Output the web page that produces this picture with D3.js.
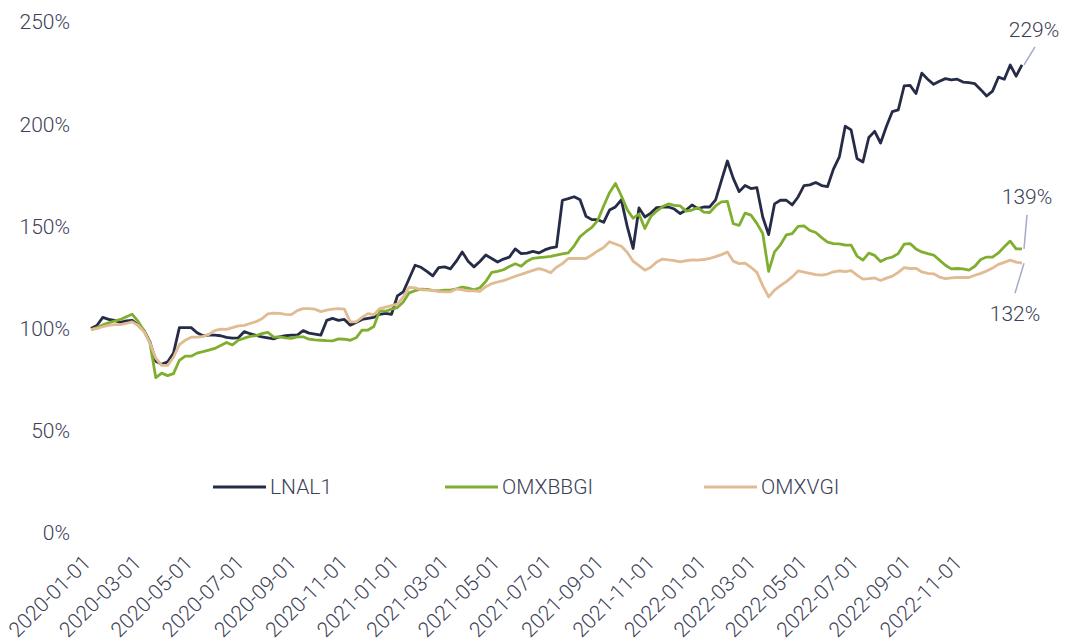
<!DOCTYPE html>
<meta charset="utf-8">
<style>
  body { margin: 0; background: #fff; }
  text { font-family: Roboto, "Liberation Sans", sans-serif; font-weight: 300; fill: #3c4157; }
</style>
<body>
<script src="https://d3js.org/d3.v7.min.js"></script>
<script>

var width = 1070, height = 643;
var fontSize = 21;

var seriesNames = ["LNAL1", "OMXBBGI", "OMXVGI"];
var seriesColors = ["#262c47", "#80ae2f", "#e0bb93"];
var startDate = "2020-01-01";   // weekly observations from here
var tickLabels = ["2020-01-01","2020-03-01","2020-05-01","2020-07-01","2020-09-01","2020-11-01",
  "2021-01-01","2021-03-01","2021-05-01","2021-07-01","2021-09-01","2021-11-01",
  "2022-01-01","2022-03-01","2022-05-01","2022-07-01","2022-09-01","2022-11-01"];
var yTicks = [0, 50, 100, 150, 200, 250];

var lnal1 = [
  100, 101.5, 105.5, 104.5, 104, 103, 103.8, 104, 101.7, 99,
  93.5, 84, 82.5, 83.7, 88, 100.5, 100.5, 100.5, 98, 96.5,
  96.8, 96.8, 96.5, 95.7, 95.3, 95.5, 98.5, 97.5, 96.7, 96,
  95.5, 95, 96, 96.5, 96.8, 96.8, 99, 97.8, 97.3, 96.8,
  104, 105, 104, 104.5, 101.7, 103, 104.5, 105, 105.5, 107,
  107.5, 107, 116, 118, 124.5, 131, 130, 128, 125.8, 129.8,
  130.2, 129.2, 133, 137.5, 133, 130.2, 132.8, 136, 134.3, 132.6,
  134, 135, 139, 136.7, 136.9, 137.8, 137, 138.5, 139.5, 140,
  162.8, 163.6, 164.5, 163, 155, 153.3, 153.3, 152, 158, 159.5,
  163, 150, 139.2, 159, 154.6, 156.5, 159.2, 159.4, 159.5, 158.5,
  156.3, 158, 160.5, 158.7, 159.5, 159.5, 163, 172.5, 182, 173.5,
  167, 170, 168.5, 169, 154.6, 146, 161, 162.8, 162.8, 160.5,
  164.4, 170, 170.3, 171.5, 170, 169.5, 178, 184, 199, 197.2,
  183.2, 181.5, 193.5, 196.5, 190.8, 199, 206.2, 207, 218.7, 219,
  215, 225, 222, 219.5, 221, 222.3, 221.7, 222, 220.6, 220.3,
  219.8, 216.9, 213.8, 216.2, 223, 222, 229, 223.5, 229
];

var omxbbgi = [
  99.5, 100.5, 101.8, 102.8, 103.7, 104.5, 105.8, 107, 103.5, 99,
  93, 76, 78.2, 77, 78, 84.5, 86.5, 86.5, 88, 88.7,
  89.5, 90.3, 91.7, 93.2, 92, 94.3, 95.3, 96.2, 96.6, 97.5,
  98.2, 95.8, 96, 95.5, 95.2, 96, 96, 94.8, 94.5, 94.3,
  94.1, 94, 95, 94.8, 94.3, 95.5, 99.2, 99.3, 101, 108.8,
  108.5, 109.5, 110.3, 113, 117.5, 118.6, 119.3, 119.2, 118.7, 118.5,
  118.8, 118.8, 119.5, 120.3, 119.8, 119, 120, 123, 127.5, 128,
  128.8, 130.4, 131.7, 130.5, 133, 134.4, 134.7, 135, 135.3, 136,
  136.5, 137, 140.5, 145, 147.4, 149.5, 153, 160, 166.5, 171,
  165, 158.2, 154, 156, 149, 154.8, 157.5, 159.7, 161, 160.3,
  160, 157.5, 158, 159.2, 157, 156.8, 160, 162, 162.2, 151.3,
  150.5, 156.5, 155.5, 151.5, 146.5, 128, 137.5, 141, 145.8, 146.5,
  150, 150.3, 148, 147, 144.5, 142.3, 141.6, 141.4, 140.8, 140.8,
  135.5, 133.5, 136.9, 135.8, 132.8, 134.3, 135, 136.7, 141.3, 141.6,
  139, 137.5, 136.7, 136, 133.5, 131, 129.2, 129.4, 129.2, 128.6,
  130.5, 133.8, 135, 135, 137, 140, 142.8, 139, 139
];

var omxvgi = [
  99.5, 100, 100.9, 101.6, 101.9, 101.9, 102.6, 103.3, 101.5, 98.5,
  93, 85.5, 82, 82, 86, 92.2, 94.3, 95.8, 95.8, 96.2,
  97.2, 99, 99.7, 99.6, 100.5, 101.3, 101.6, 102.5, 103.4, 104.8,
  107.2, 107.6, 107.4, 107, 106.8, 108.8, 109.8, 109.8, 109.5, 108.3,
  109, 109.5, 109.8, 109.5, 103.3, 103.3, 105.5, 107.3, 106.8, 109.8,
  110.5, 111.2, 112, 115.5, 120.2, 119.9, 119, 118.8, 118.7, 118.1,
  118, 118, 119.4, 119, 118.5, 118.5, 118.2, 120.5, 122, 122.8,
  123.5, 124.5, 125.6, 126.5, 127.5, 128.5, 129.3, 128.6, 127.3, 130,
  131.8, 134.3, 134.3, 134.3, 134.3, 136, 138, 139.7, 142.5, 141.4,
  140.3, 137.4, 133, 130.8, 128.6, 130, 132.6, 134, 133.6, 133.3,
  132.6, 133.2, 133.6, 133.5, 133.8, 134.3, 135.2, 136.2, 137.5, 133,
  131.8, 132, 130, 127.5, 121, 115.5, 118.8, 121, 123, 125.3,
  128.2, 127.6, 127, 126.4, 126.2, 126.7, 127.8, 128.3, 127.9, 128.4,
  126.2, 124.2, 124.4, 124.8, 123.5, 124.7, 125.7, 127.5, 129.8, 129.4,
  129.5, 127.7, 127, 126.8, 125.2, 124.5, 124.8, 125, 125, 125,
  126.1, 127, 128.2, 129.6, 131.4, 132.4, 133.5, 132.5, 132
];

var endLabels = ["229%", "139%", "132%"];

var parseDate = d3.timeParse("%Y-%m-%d");
var start = parseDate(startDate);
var dates = lnal1.map(function(d, i) { return d3.timeDay.offset(start, 7 * i); });
var allSeries = [lnal1, omxbbgi, omxvgi];

var x = d3.scaleTime().domain(d3.extent(dates)).range([91, 1022]);
var y = d3.scaleLinear().domain([0, 250]).range([533, 22]);

var svg = d3.select("body").append("svg")
  .attr("width", width)
  .attr("height", height);

svg.append("rect").attr("width", width).attr("height", height).attr("fill", "#fff");

// y labels
svg.selectAll("text.ylab")
  .data(yTicks)
  .enter()
  .append("text")
  .attr("class", "ylab")
  .attr("x", 70)
  .attr("y", function(d) { return y(d); })
  .attr("dy", "0.35em")
  .attr("text-anchor", "end")
  .attr("font-size", fontSize + "px")
  .text(function(d) { return d + "%"; });

// x labels, rotated
svg.selectAll("text.xlab")
  .data(tickLabels)
  .enter()
  .append("text")
  .attr("class", "xlab")
  .attr("transform", function(d) { return "translate(" + (x(parseDate(d)) + 1) + ",564) rotate(-45)"; })
  .attr("text-anchor", "end")
  .attr("font-size", fontSize + "px")
  .text(function(d) { return d; });

// lines
var line = d3.line()
  .x(function(d, i) { return x(dates[i]); })
  .y(function(d) { return y(d); });

svg.selectAll("path.series")
  .data(allSeries)
  .enter()
  .append("path")
  .attr("class", "series")
  .attr("d", line)
  .attr("fill", "none")
  .attr("stroke", function(d, i) { return seriesColors[i]; })
  .attr("stroke-width", 2.8)
  .attr("stroke-linejoin", "round");

// end labels with leader lines
var leader = [
  {dx1: 11, dy1: -18, tx: 10, ty: -28},
  {dx1: 3, dy1: -34, tx: 3, ty: -45},
  {dx1: -9, dy1: 30, tx: -9, ty: 58}
];

allSeries.forEach(function(s, i) {
  var lx = x(dates[dates.length - 1]) + 2;
  var ly = y(s[s.length - 1]);
  svg.append("line")
    .attr("x1", lx).attr("y1", ly)
    .attr("x2", lx + leader[i].dx1).attr("y2", ly + leader[i].dy1)
    .attr("stroke", "#a4abc8")
    .attr("stroke-width", 1.5);
  svg.append("text")
    .attr("x", lx + leader[i].tx)
    .attr("y", ly + leader[i].ty)
    .attr("text-anchor", "middle")
    .attr("font-size", fontSize + "px")
    .text(endLabels[i]);
});

// legend
var legendX = [213, 445, 704];
var legend = svg.selectAll("g.legend")
  .data(seriesNames)
  .enter()
  .append("g")
  .attr("class", "legend")
  .attr("transform", function(d, i) { return "translate(" + legendX[i] + ",487)"; });

legend.append("line")
  .attr("x1", 0).attr("x2", 53)
  .attr("stroke", function(d, i) { return seriesColors[i]; })
  .attr("stroke-width", 2.8);

legend.append("text")
  .attr("x", 57)
  .attr("dy", "0.35em")
  .attr("font-size", fontSize + "px")
  .text(function(d) { return d; });

</script>
</body>
